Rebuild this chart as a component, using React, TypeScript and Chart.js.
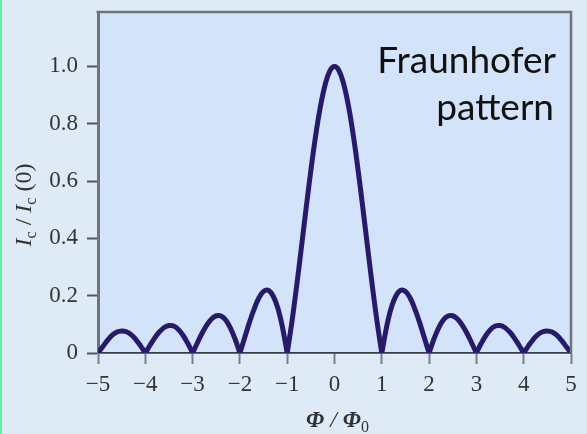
import React, { useEffect, useRef } from "react";
import { Chart, registerables } from "chart.js";

Chart.register(...registerables);

// Flux axis: Φ/Φ0 sampled every 0.1 from -5 to 5
const PHI_MIN = -5;
const PHI_STEP = 0.1;

// Critical current Ic/Ic(0), left half (Φ/Φ0 = -5.0 … -0.1)
const CURRENT_LEFT = [
  0.0, 0.022, 0.044, 0.062, 0.073, 0.077, 0.074, 0.064, 0.047, 0.025,
  0.0, 0.027, 0.053, 0.074, 0.089, 0.096, 0.094, 0.082, 0.061, 0.033,
  0.0, 0.035, 0.069, 0.097, 0.119, 0.13, 0.129, 0.115, 0.087, 0.048,
  0.0, 0.053, 0.106, 0.153, 0.192, 0.215, 0.219, 0.2, 0.158, 0.09,
  0.0, 0.109, 0.234, 0.368, 0.505, 0.637, 0.757, 0.858, 0.935, 0.984,
];

// Critical current Ic/Ic(0), right half (Φ/Φ0 = 0.0 … 5.0)
const CURRENT_RIGHT = [
  1.0, 0.984, 0.935, 0.858, 0.757, 0.637, 0.505, 0.368, 0.234, 0.109,
  0.0, 0.09, 0.158, 0.2, 0.219, 0.215, 0.192, 0.153, 0.106, 0.053,
  0.0, 0.048, 0.087, 0.115, 0.129, 0.13, 0.119, 0.097, 0.069, 0.035,
  0.0, 0.033, 0.061, 0.082, 0.094, 0.096, 0.089, 0.074, 0.053, 0.027,
  0.0, 0.025, 0.047, 0.064, 0.074, 0.077, 0.073, 0.062, 0.044, 0.022,
  0.0,
];

const X_TICKS = [-5, -4, -3, -2, -1, 0, 1, 2, 3, 4, 5];
const X_TICK_LABELS = ["−5", "−4", "−3", "−2", "−1", "0", "1", "2", "3", "4", "5"];
const Y_TICKS = [0, 0.2, 0.4, 0.6, 0.8, 1.0];
const Y_TICK_LABELS = ["0", "0.2", "0.4", "0.6", "0.8", "1.0"];
const NOTE_LINES = ["Fraunhofer", "pattern"];

const SERIF = "'Liberation Serif', 'Times New Roman', serif";
const PAGE_BG = "#dfeaf7";
const PLOT_BG = "#d3e3f9";
const FRAME = "#6c7480";
const CURVE = "#271a68";
const INK = "#333333";

type Part = { text: string; font: string; dy?: number };

// Draws a run of mixed-font text (italics, subscripts) centred on cx
function drawRich(ctx: CanvasRenderingContext2D, parts: Part[], cx: number, baseline: number) {
  let total = 0;
  const widths = parts.map((p) => {
    ctx.font = p.font;
    const w = ctx.measureText(p.text).width;
    total += w;
    return w;
  });
  let x = cx - total / 2;
  ctx.textAlign = "left";
  ctx.textBaseline = "alphabetic";
  parts.forEach((p, i) => {
    ctx.font = p.font;
    ctx.fillText(p.text, x, baseline + (p.dy || 0));
    x += widths[i];
  });
}

const decorations = {
  id: "decorations",
  beforeDraw(chart: any) {
    const { ctx, chartArea } = chart;
    ctx.save();
    ctx.fillStyle = PLOT_BG;
    ctx.fillRect(chartArea.left, chartArea.top, chartArea.right - chartArea.left, chartArea.bottom - chartArea.top);
    ctx.restore();
  },
  afterDraw(chart: any) {
    const { ctx, chartArea } = chart;
    const { left, top, right, bottom } = chartArea;
    ctx.save();

    // top and right frame
    ctx.strokeStyle = FRAME;
    ctx.lineWidth = 2.5;
    ctx.beginPath();
    ctx.moveTo(left - 1.5, top);
    ctx.lineTo(right, top);
    ctx.lineTo(right, bottom);
    ctx.stroke();

    ctx.fillStyle = INK;
    const main = `24px ${SERIF}`;
    const ital = `italic 24px ${SERIF}`;
    const boldItal = `italic bold 23px ${SERIF}`;
    const sub = `16px ${SERIF}`;

    // x-axis title: Φ / Φ0
    drawRich(
      ctx,
      [
        { text: "Φ", font: boldItal },
        { text: " / ", font: ital },
        { text: "Φ", font: boldItal },
        { text: "0", font: sub, dy: 5 },
      ],
      (left + right) / 2 + 3,
      chart.height - 7
    );

    // y-axis title: Ic / Ic(0)
    ctx.save();
    ctx.translate(chart.scales.y.left + 31, top + 193);
    ctx.rotate(-Math.PI / 2);
    drawRich(
      ctx,
      [
        { text: "I", font: ital },
        { text: "c", font: sub, dy: 5 },
        { text: " / ", font: main },
        { text: "I", font: ital },
        { text: "c", font: sub, dy: 5 },
        { text: " (0)", font: main },
      ],
      0,
      0
    );
    ctx.restore();

    // annotation
    ctx.font = "37px Lato, 'Open Sans', sans-serif";
    ctx.fillStyle = "#111111";
    ctx.textAlign = "right";
    ctx.textBaseline = "alphabetic";
    ctx.fillText(NOTE_LINES[0], right - 15, top + 61);
    ctx.fillText(NOTE_LINES[1], right - 17, top + 108);

    ctx.restore();
  },
};

export default function App() {
  const canvasRef = useRef<HTMLCanvasElement | null>(null);

  useEffect(() => {
    const canvas = canvasRef.current;
    if (!canvas) return;
    const values = [...CURRENT_LEFT, ...CURRENT_RIGHT];
    const points = values.map((v, i) => ({ x: +(PHI_MIN + i * PHI_STEP).toFixed(2), y: v }));

    // one dataset per lobe so every zero stays a sharp cusp
    const zeros = values.map((v, i) => (v === 0 ? i : -1)).filter((i) => i >= 0);
    const lobes = zeros.slice(0, -1).map((start, k) => points.slice(start, zeros[k + 1] + 1));

    const chart = new Chart(canvas, {
      type: "line",
      data: {
        datasets: lobes.map((lobe) => ({
          data: lobe,
          borderColor: CURVE,
          borderWidth: 5,
          pointRadius: 0,
          tension: 0.4,
          fill: false,
          borderJoinStyle: "round" as const,
          borderCapStyle: "round" as const,
        })),
      },
      options: {
        animation: false,
        responsive: false,
        devicePixelRatio: 1,
        layout: { padding: { left: 0, top: 12, right: 16, bottom: 0 } },
        plugins: { legend: { display: false }, tooltip: { enabled: false } },
        scales: {
          x: {
            type: "linear",
            min: -5,
            max: 5,
            afterBuildTicks: (axis: any) => {
              axis.ticks = X_TICKS.map((v) => ({ value: v }));
            },
            afterFit: (axis: any) => {
              axis.height = 81;
              axis.paddingLeft = 0;
              axis.paddingRight = 0;
            },
            ticks: {
              autoSkip: false,
              maxRotation: 0,
              padding: 7,
              color: INK,
              font: { family: SERIF, size: 23 },
              callback: (v: any) => X_TICK_LABELS[X_TICKS.indexOf(Math.round(Number(v)))] ?? "",
            },
            grid: {
              drawOnChartArea: false,
              drawTicks: true,
              tickLength: 11,
              tickColor: "#777e88",
              tickWidth: 2,
            },
            border: { display: true, color: "#3a3d44", width: 1.8 },
          },
          y: {
            type: "linear",
            min: 0,
            max: 1.19,
            afterBuildTicks: (axis: any) => {
              axis.ticks = Y_TICKS.map((v) => ({ value: v }));
            },
            afterFit: (axis: any) => {
              axis.width = 98;
              axis.paddingTop = 0;
              axis.paddingBottom = 0;
            },
            ticks: {
              padding: 9,
              color: INK,
              font: { family: SERIF, size: 23 },
              callback: (v: any) => {
                const idx = Y_TICKS.findIndex((t) => Math.abs(t - Number(v)) < 1e-6);
                return idx >= 0 ? Y_TICK_LABELS[idx] : "";
              },
            },
            grid: {
              drawOnChartArea: false,
              drawTicks: true,
              tickLength: 11,
              tickColor: "#50555e",
              tickWidth: 2,
            },
            border: { display: true, color: FRAME, width: 3 },
          },
        },
      },
      plugins: [decorations],
    });

    return () => chart.destroy();
  }, []);

  return (
    <div
      style={{
        position: "fixed",
        left: 0,
        top: 0,
        width: 587,
        height: 434,
        background: PAGE_BG,
        overflow: "hidden",
      }}
    >
      <div style={{ position: "absolute", left: 0, top: 0, width: 2, height: 434, background: "#62f2a0" }} />
      <canvas ref={canvasRef} width={587} height={434} style={{ display: "block" }} />
    </div>
  );
}
